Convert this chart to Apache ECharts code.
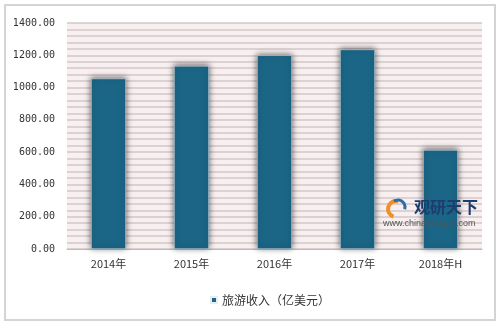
<!DOCTYPE html>
<html><head><meta charset="utf-8">
<script src="https://cdn.jsdelivr.net/npm/echarts@6/dist/echarts.min.js"></script>
<style>html,body{margin:0;padding:0;background:#fff}#c{width:500px;height:325px}
#frame{position:absolute;left:4px;top:4px;width:488px;height:313px;border:2px solid #d4d4d4;pointer-events:none}</style>
</head><body><div id="c"></div><div id="frame"></div>
<script>
const categories = ['2014年', '2015年', '2016年', '2017年', '2018年H'];
const seriesName = '旅游收入（亿美元）';
const values = [1056, 1134, 1200, 1236, 613];
const yMin = 0, yMax = 1400, yInterval = 200;

const chart = echarts.init(document.getElementById('c'), null, {renderer: 'canvas'});
chart.setOption({
  animation: false,
  backgroundColor: '#ffffff',
  grid: {left: 67, right: 18, top: 23, bottom: 76, show: true, backgroundColor: '#f8eff0', borderWidth: 0},
  legend: {
    data: [seriesName], left: 205, top: 289, itemWidth: 6, itemHeight: 6, itemGap: 2, icon: 'rect',
    textStyle: {fontSize: 12, color: '#333', fontFamily: 'Noto Sans CJK SC'}
  },
  xAxis: {
    type: 'category', data: categories,
    axisLine: {show: true, lineStyle: {color: '#bbb', width: 1}},
    axisTick: {show: false},
    axisLabel: {fontSize: 11, color: '#333', margin: 9, fontFamily: 'Noto Sans CJK SC'}
  },
  yAxis: {
    type: 'value', min: yMin, max: yMax, interval: yInterval,
    axisLine: {show: false}, axisTick: {show: false},
    axisLabel: {fontSize: 10, color: '#333', margin: 12, fontFamily: 'DejaVu Sans Mono',
      formatter: v => v.toFixed(2)},
    splitLine: {show: true, lineStyle: {color: '#d3c7c8', width: 1.5}},
    minorTick: {show: false, splitNumber: 5},
    minorSplitLine: {show: true, lineStyle: {color: '#d3c7c8', width: 1.5}}
  },
  series: [{
    name: seriesName, type: 'bar', data: values, barWidth: '42%',
    itemStyle: {color: '#1b6586', borderColor: '#e6eef2', borderWidth: 0.5,
      shadowColor: 'rgba(0,0,0,0.6)', shadowBlur: 6, shadowOffsetX: 0, shadowOffsetY: -1}
  }],
  graphic: [
    {type: 'text', z: 100, left: 414, top: 199, style: {text: '观研天下', fontSize: 16, fontWeight: 'bold', fill: '#1c3d6e', fontFamily: 'Noto Sans CJK SC'}},
    {type: 'text', z: 100, left: 383, top: 219, style: {text: 'www.chinabaogao.com', fontSize: 9, fill: '#555', fontFamily: 'Liberation Sans'}},
    {type: 'arc', z: 100, shape: {cx: 396, cy: 209, r: 8, startAngle: Math.PI*0.6, endAngle: Math.PI*1.6}, style: {stroke: '#f0902a', lineWidth: 4, fill: null}},
    {type: 'arc', z: 100, shape: {cx: 398, cy: 207, r: 7, startAngle: Math.PI*1.3, endAngle: Math.PI*2.1}, style: {stroke: '#2a6fa8', lineWidth: 3, fill: null}}
  ]
});
</script></body></html>
